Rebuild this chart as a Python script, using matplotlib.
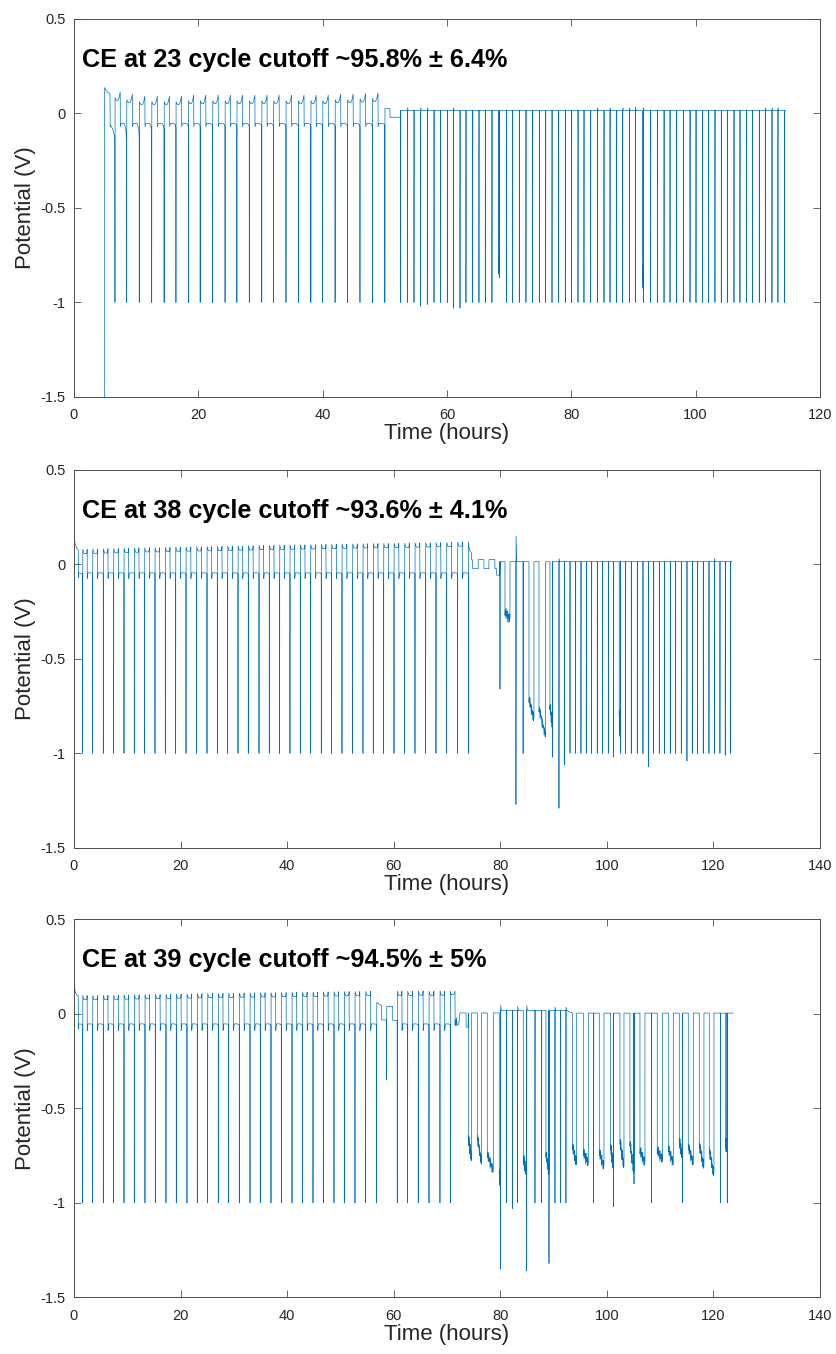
import numpy as np
import matplotlib.pyplot as plt

plt.rcParams['font.family'] = ['Liberation Sans', 'DejaVu Sans']
plt.rcParams['axes.unicode_minus'] = False

LINE_COLOR = '#0072BD'
AX_COLOR = '#4d4d4d'
TEXT_COLOR = '#262626'

# texture for the noisy plating segments of the later cycles
NOISE = [0.0, 0.035, -0.01, 0.045, 0.005, 0.03, -0.02, 0.04, 0.0, 0.025, -0.015, 0.035, -0.005, 0.02]

TITLES = ['CE at 23 cycle cutoff ~95.8% \u00b1 6.4%',
          'CE at 38 cycle cutoff ~93.6% \u00b1 4.1%',
          'CE at 39 cycle cutoff ~94.5% \u00b1 5%']
X_MAX = [120, 140, 140]

# ---------------- cell 1 ----------------
P1_HEAD_T = [4.9, 4.93, 5.2, 5.5, 5.79, 5.82, 5.9, 6.2, 6.45, 6.57]
P1_HEAD_V = [-1.6, 0.137, 0.12, 0.11, 0.105, -0.07, -0.065, -0.08, -0.11, -0.125]
P1_SPIKES = [6.59, 8.47, 10.5, 12.5, 14.5, 16.4, 18.4, 20.3, 22.3, 24.3, 26.2, 28.2,
             30.2, 32.1, 34.1, 36.1, 38.1, 40.0, 42.0, 44.0, 46.0, 48.0, 50.0]
P1_PEAKS = [0.114, 0.102, 0.092, 0.092, 0.092, 0.092, 0.097, 0.097, 0.097, 0.097, 0.097,
            0.097, 0.097, 0.097, 0.097, 0.097, 0.097, 0.097, 0.102, 0.102, 0.106, 0.109]
P1_KNEES = [-0.18, -0.12, -0.10, -0.085, -0.075, -0.07, -0.07, -0.07, -0.07, -0.07, -0.07,
            -0.07, -0.07, -0.07, -0.07, -0.07, -0.07, -0.07, -0.07, -0.07, -0.07, -0.065]
P1_SAG, P1_LOW, P1_DIP, P1_CUT = 0.045, -0.053, -0.07, -1.0
P1_MID_T = [50.02, 50.8, 50.85, 52.5]
P1_MID_V = [0.026, 0.026, -0.02, -0.02]
P1_TAIL_T = [52.55, 53.62, 54.69, 55.76, 56.83, 57.91, 58.98, 60.05, 61.02, 62.09,
             63.05, 64.13, 65.14, 66.16, 67.23, 68.41, 69.59, 70.56, 71.63, 72.70,
             73.78, 74.85, 75.87, 76.89, 77.96, 79.03, 80.05, 81.07, 82.03, 83.11,
             84.18, 85.25, 86.22, 87.29, 88.26, 89.33, 90.29, 91.58, 92.76, 93.83,
             94.91, 95.87, 96.94, 98.01, 99.09, 100.05, 101.12, 102.08, 103.10, 104.12,
             105.09, 106.16, 107.12, 108.20, 109.16, 110.23, 111.20, 112.27, 113.23, 114.26]
P1_TAIL_MIN = [-1.0, -1.0, -1.0, -1.02, -1.01, -1.0, -1.0, -1.0, -1.03, -1.03,
               -1.0, -1.0, -1.0, -1.0, -1.0, -0.87, -1.0, -1.0, -1.0, -1.0,
               -1.0, -1.0, -1.0, -1.0, -1.0, -1.0, -1.0, -1.0, -1.0, -1.0,
               -1.0, -1.0, -1.0, -1.0, -1.0, -1.0, -1.0, -1.0, -1.0, -1.0,
               -1.0, -1.0, -1.0, -1.0, -1.0, -1.0, -1.0, -1.0, -1.0, -1.0,
               -1.0, -1.0, -1.0, -1.0, -1.0, -1.0, -1.0, -1.0, -1.0, -1.0]
P1_SEG_T0, P1_SEG_T1 = [68.26, 91.42], [68.40, 91.57]
P1_SEG_HI, P1_SEG_LO = [-0.78, -0.83], [-0.85, -0.93]
P1_BASE_T, P1_BASE_V = [52.5], [0.016]
P1_KICK_T = [53.62, 55.76, 56.83, 61.02, 84.18, 86.22, 88.26, 89.33, 90.29, 91.58, 111.20, 112.27, 113.23]
P1_KICK_V = [0.03, 0.03, 0.03, 0.03, 0.03, 0.03, 0.03, 0.03, 0.035, 0.03, 0.03, 0.03, 0.03]
P1_END = 114.4

# ---------------- cell 2 ----------------
P2_HEAD_T = [0.0, 0.0, 0.2, 0.5, 0.8, 0.82, 0.9, 1.55]
P2_HEAD_V = [-1.55, 0.155, 0.11, 0.085, 0.078, -0.07, -0.045, -0.05]
P2_SPIKES = [1.63, 3.50, 5.50, 7.44, 9.38, 11.32, 13.26, 15.20, 17.14, 19.08, 21.02, 23.02,
             24.96, 26.90, 28.84, 30.78, 32.71, 34.72, 36.65, 38.59, 40.53, 42.47, 44.41,
             46.41, 48.35, 50.29, 52.29, 54.23, 56.17, 58.11, 60.05, 62.05, 63.99, 65.99,
             67.93, 69.93, 71.99, 74.00]
P2_PEAKS = [0.079, 0.080, 0.082, 0.083, 0.085, 0.086, 0.088, 0.088, 0.090, 0.091, 0.092,
            0.093, 0.094, 0.095, 0.096, 0.097, 0.098, 0.100, 0.100, 0.101, 0.102, 0.103,
            0.104, 0.105, 0.106, 0.107, 0.108, 0.109, 0.110, 0.110, 0.111, 0.112, 0.113,
            0.114, 0.115, 0.116, 0.118]
P2_SAG, P2_LOW, P2_DIP, P2_KNEE, P2_CUT = 0.022, -0.045, -0.075, -0.05, -1.0
P2_MID_T = [74.02, 74.2, 74.6, 74.62, 74.8, 74.82, 75.85, 75.87, 76.92, 76.94, 77.86, 77.88,
            78.98, 79.0, 79.3, 79.32, 79.9]
P2_MID_V = [0.12, 0.075, 0.06, 0.023, 0.023, -0.023, -0.023, 0.025, 0.025, -0.023, -0.023,
            0.025, 0.025, -0.023, -0.023, -0.057, -0.057]
P2_TAIL_T = [79.94, 82.94, 84.28, 89.83, 91.01, 92.01, 93.08, 94.14, 95.14, 96.14, 97.14,
             98.20, 99.20, 100.27, 101.27, 102.53, 103.52, 104.58, 105.71, 106.77, 107.78,
             108.78, 109.84, 110.84, 111.90, 112.90, 113.97, 115.03, 116.03, 117.03, 118.09,
             119.16, 120.16, 121.22, 122.22, 123.22]
P2_TAIL_MIN = [-0.66, -1.27, -1.0, -1.02, -1.29, -1.06, -1.0, -1.0, -1.0, -1.0, -1.0,
               -1.0, -1.0, -1.0, -1.02, -1.0, -1.0, -1.0, -1.0, -1.0, -1.07,
               -1.0, -1.0, -1.0, -1.0, -1.0, -1.0, -1.04, -1.0, -1.0, -1.0,
               -1.0, -1.0, -1.0, -1.01, -1.0]
P2_SEG_T0 = [80.88, 85.38, 87.26, 89.32, 102.32]
P2_SEG_T1 = [81.82, 86.32, 88.51, 89.82, 102.52]
P2_SEG_HI = [-0.27, -0.73, -0.78, -0.77, -0.80]
P2_SEG_LO = [-0.30, -0.83, -0.92, -0.87, -0.92]
P2_BASE_T, P2_BASE_V = [79.9], [0.014]
P2_KICK_T, P2_KICK_V = [82.94, 91.01, 120.16], [0.15, 0.03, 0.03]
P2_END = 123.3

# ---------------- cell 3 ----------------
P3_HEAD_T = [0.0, 0.0, 0.2, 0.5, 0.8, 0.83, 0.9, 1.6]
P3_HEAD_V = [-1.55, 0.176, 0.12, 0.1, 0.097, -0.08, -0.053, -0.055]
P3_SPIKES = [1.63, 3.50, 5.50, 7.44, 9.38, 11.32, 13.32, 15.26, 17.26, 19.20, 21.20, 23.14,
             25.08, 27.08, 29.02, 31.02, 33.03, 34.96, 36.97, 38.91, 40.91, 42.85, 44.85,
             46.79, 48.79, 50.73, 52.73, 54.73, 56.80]
P3_PEAKS = [0.097, 0.097, 0.098, 0.099, 0.100, 0.101, 0.102, 0.103, 0.104, 0.105, 0.106,
            0.107, 0.108, 0.108, 0.109, 0.110, 0.111, 0.112, 0.112, 0.113, 0.114, 0.115,
            0.115, 0.116, 0.117, 0.118, 0.118, 0.119]
P3_SAG, P3_LOW, P3_DIP, P3_KNEE, P3_CUT = 0.022, -0.053, -0.088, -0.06, -1.0
P3_MID_T = [56.82, 57.7, 57.72, 58.65, 58.67, 58.69, 59.8, 59.82, 60.64]
P3_MID_V = [0.06, 0.044, -0.032, -0.032, -0.35, 0.04, 0.04, -0.035, -0.035]
P3_SPIKES_B = [60.67, 62.61, 64.61, 66.62, 68.68, 70.62]
P3_PEAKS_B = [0.12, 0.12, 0.121, 0.12, 0.121]
P3_MID2_T = [70.64, 70.8, 71.3, 71.5, 71.52, 71.6, 71.7, 71.8, 71.9, 72.2, 72.43, 73.56, 73.6, 73.98]
P3_MID2_V = [0.12, 0.1, 0.105, 0.12, -0.06, -0.03, -0.065, -0.02, -0.06, -0.055, 0.005, 0.005, -0.07, -0.07]
P3_TAIL_T = [80.07, 81.19, 82.31, 83.25, 84.95, 86.51, 87.76, 89.14, 90.26, 91.32, 92.32,
             97.52, 101.22, 105.09, 108.40, 114.17, 121.35, 122.60]
P3_TAIL_MIN = [-1.35, -1.0, -1.03, -1.0, -1.36, -1.0, -1.0, -1.32, -1.0, -1.0, -1.0,
               -1.0, -1.02, -0.90, -1.0, -1.0, -1.0, -1.0]
P3_SEG_T0 = [74.00, 75.69, 77.56, 79.81, 84.32, 88.57, 93.57, 95.58, 98.58, 100.71,
             102.46, 104.33, 106.21, 109.45, 111.53, 113.59, 115.28, 117.34, 119.22, 122.30]
P3_SEG_T1 = [74.62, 76.50, 78.69, 80.06, 84.94, 89.13, 94.32, 96.52, 99.46, 101.21,
             103.21, 105.08, 107.15, 110.46, 112.47, 114.16, 116.22, 118.22, 120.10, 122.45]
P3_SEG_HI = [-0.67, -0.67, -0.76, -0.85, -0.78, -0.76, -0.72, -0.75, -0.75, -0.72,
             -0.69, -0.70, -0.74, -0.74, -0.73, -0.69, -0.72, -0.71, -0.74, -0.70]
P3_SEG_LO = [-0.78, -0.80, -0.84, -0.93, -0.85, -0.85, -0.80, -0.80, -0.82, -0.82,
             -0.82, -0.85, -0.80, -0.78, -0.80, -0.76, -0.80, -0.82, -0.86, -0.72]
P3_BASE_T, P3_BASE_V = [74.0, 80.0, 92.5], [0.005, 0.018, 0.004]
P3_KICK_T, P3_KICK_V = [80.07, 83.25, 84.95, 90.26, 92.32], [0.044, 0.04, 0.044, 0.035, 0.035]
P3_END = 123.73


def as_list(x, n):
    return list(x) if np.ndim(x) else [x] * n


def add_cycles(tt, vv, spikes, peaks, sag, low, dip, knee, cut, open_at_peak, rise_from):
    # one stripping/plating cycle between neighbouring cutoff spikes
    n = len(spikes) - 1
    knees = as_list(knee, n)
    for k in range(n):
        s, e = spikes[k], spikes[k + 1]
        w = e - s
        pk = peaks[k]
        sg = pk - sag
        op = pk if open_at_peak else sg + 0.015
        mid = (rise_from + 0.45) / 2
        tt += [s, s + 0.01 * w, s + 0.12 * w, s + rise_from * w, s + mid * w, s + 0.45 * w,
               s + 0.46 * w, s + 0.52 * w, s + 0.82 * w, s + 0.95 * w, e - 0.005 * w]
        vv += [cut, op, sg, sg, sg + 0.3 * (pk - sg), pk,
               dip, low, low, low + 0.35 * (knees[k] - low), knees[k]]
    tt.append(spikes[-1])
    vv.append(cut)


def add_tail(tt, vv, spk_t, spk_min, seg_t0, seg_t1, seg_hi, seg_lo,
             base_t, base_v, kick_t, kick_v, end_t):
    def base_at(t):
        i = max(j for j in range(len(base_t)) if base_t[j] <= t + 1e-6) if t >= base_t[0] else 0
        return base_v[i]

    events = [(t, 0, i) for i, t in enumerate(spk_t)] + [(t, 1, j) for j, t in enumerate(seg_t0)]
    for t, kind, i in sorted(events):
        b = base_at(t)
        if kind == 0:
            top = kick_v[kick_t.index(t)] if t in kick_t else b
            tt += [t, t, t + 0.02, t + 0.15]
            vv += [b, spk_min[i], top, b]
        else:
            t0, t1 = seg_t0[i], seg_t1[i]
            m = len(NOISE)
            ts = np.linspace(t0, t1, m)
            vs = np.linspace(seg_hi[i], seg_lo[i], m) + np.array(NOISE)
            tt += [t0] + list(ts) + [t1]
            vv += [b] + list(vs) + [b]
    tt.append(end_t)
    vv.append(base_at(end_t))


# assemble the three potential traces
t1, v1 = list(P1_HEAD_T), list(P1_HEAD_V)
add_cycles(t1, v1, P1_SPIKES, P1_PEAKS, P1_SAG, P1_LOW, P1_DIP, P1_KNEES, P1_CUT, False, 0.25)
t1 += P1_MID_T
v1 += P1_MID_V
add_tail(t1, v1, P1_TAIL_T, P1_TAIL_MIN, P1_SEG_T0, P1_SEG_T1, P1_SEG_HI, P1_SEG_LO,
         P1_BASE_T, P1_BASE_V, P1_KICK_T, P1_KICK_V, P1_END)

t2, v2 = list(P2_HEAD_T), list(P2_HEAD_V)
add_cycles(t2, v2, P2_SPIKES, P2_PEAKS, P2_SAG, P2_LOW, P2_DIP, P2_KNEE, P2_CUT, True, 0.41)
t2 += P2_MID_T
v2 += P2_MID_V
add_tail(t2, v2, P2_TAIL_T, P2_TAIL_MIN, P2_SEG_T0, P2_SEG_T1, P2_SEG_HI, P2_SEG_LO,
         P2_BASE_T, P2_BASE_V, P2_KICK_T, P2_KICK_V, P2_END)

t3, v3 = list(P3_HEAD_T), list(P3_HEAD_V)
add_cycles(t3, v3, P3_SPIKES, P3_PEAKS, P3_SAG, P3_LOW, P3_DIP, P3_KNEE, P3_CUT, True, 0.41)
t3 += P3_MID_T
v3 += P3_MID_V
add_cycles(t3, v3, P3_SPIKES_B, P3_PEAKS_B, P3_SAG, P3_LOW, P3_DIP, P3_KNEE, P3_CUT, True, 0.41)
t3 += P3_MID2_T
v3 += P3_MID2_V
add_tail(t3, v3, P3_TAIL_T, P3_TAIL_MIN, P3_SEG_T0, P3_SEG_T1, P3_SEG_HI, P3_SEG_LO,
         P3_BASE_T, P3_BASE_V, P3_KICK_T, P3_KICK_V, P3_END)

traces = [(t1, v1), (t2, v2), (t3, v3)]
bottoms = [0.7068, 0.3738, 0.0418]

fig = plt.figure(figsize=(8.37, 13.54), dpi=100)
for (tt, vv), bottom, title, xmax in zip(traces, bottoms, TITLES, X_MAX):
    ax = fig.add_axes([0.0884, bottom, 0.8913, 0.2792])
    ax.plot(tt, vv, color=LINE_COLOR, lw=0.5)
    ax.set_xlim(0, xmax)
    ax.set_ylim(-1.5, 0.5)
    ax.set_xticks(np.arange(0, xmax + 1, 20))
    ax.set_yticks([-1.5, -1, -0.5, 0, 0.5])
    ax.set_yticklabels(['-1.5', '-1', '-0.5', '0', '0.5'])
    ax.tick_params(direction='in', top=True, right=True, length=5, width=0.6,
                   color=AX_COLOR, labelcolor=TEXT_COLOR, labelsize=10.5, pad=6)
    ax.tick_params(axis='x', pad=8)
    for sp in ax.spines.values():
        sp.set_color(AX_COLOR)
        sp.set_linewidth(0.7)
    ax.set_xlabel('Time (hours)', fontsize=16, color=TEXT_COLOR, labelpad=1)
    ax.set_ylabel('Potential (V)', fontsize=16, color=TEXT_COLOR, labelpad=3)
    ax.text(0.011, 0.873, title, transform=ax.transAxes, fontsize=18.2,
            fontweight='bold', va='baseline', color='black')

fig.savefig('out.png', dpi=100)
